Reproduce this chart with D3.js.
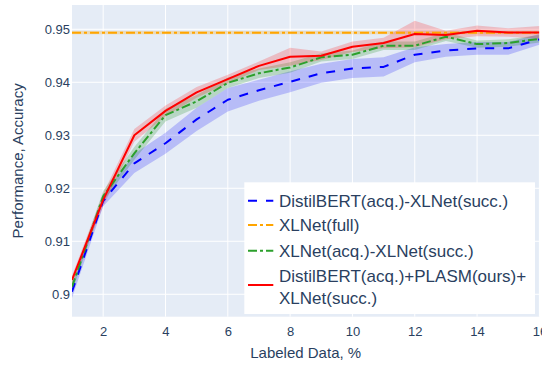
<!DOCTYPE html>
<html><head><meta charset="utf-8">
<script src="https://cdn.jsdelivr.net/npm/d3@7"></script>
<style>body{margin:0;background:#fff}svg{display:block}</style>
</head><body>
<svg id="chart" width="542" height="365"></svg>
<script>
const xValues = [1,2,3,4,5,6,7,8,9,10,11,12,13,14,15,16];
const seriesNames = ["DistilBERT(acq.)-XLNet(succ.)","XLNet(full)","XLNet(acq.)-XLNet(succ.)","DistilBERT(acq.)+PLASM(ours)+XLNet(succ.)"];
const distilXlnet = [0.9005,0.9176,0.9247,0.9285,0.9330,0.9367,0.9385,0.9401,0.9417,0.9426,0.9429,0.9452,0.9460,0.9464,0.9464,0.9481];
const distilXlnetStd = [0.0012,0.0010,0.0018,0.0020,0.0022,0.0022,0.0020,0.0020,0.0018,0.0018,0.0018,0.0014,0.0012,0.0012,0.0012,0.0010];
const xlnetFull = [0.94936,0.94936,0.94936,0.94936,0.94936,0.94936,0.94936,0.94936,0.94936,0.94936,0.94936,0.94936,0.94936,0.94936,0.94936,0.94936];
const xlnetFullStd = [0.0003,0.0003,0.0003,0.0003,0.0003,0.0003,0.0003,0.0003,0.0003,0.0003,0.0003,0.0003,0.0003,0.0003,0.0003,0.0003];
const xlnetXlnet = [0.9014,0.9185,0.9266,0.9338,0.9364,0.9399,0.9417,0.9428,0.9447,0.9452,0.9469,0.9469,0.9486,0.9472,0.9474,0.9482];
const xlnetXlnetStd = [0.0010,0.0010,0.0012,0.0012,0.0012,0.0010,0.0009,0.0010,0.0008,0.0008,0.0008,0.0008,0.0008,0.0007,0.0007,0.0007];
const plasm = [0.9027,0.9178,0.9300,0.9346,0.9381,0.9406,0.9431,0.9448,0.9450,0.9467,0.9474,0.9491,0.9489,0.9497,0.9494,0.9494];
const plasmStd = [0.0008,0.0012,0.0012,0.0010,0.0010,0.0008,0.0008,0.0017,0.0008,0.0010,0.0010,0.0025,0.0008,0.0010,0.0008,0.0012];
const xTicks = [2,4,6,8,10,12,14,16];
const yTicks = [0.9,0.91,0.92,0.93,0.94,0.95];
const yTickLabels = ["0.9","0.91","0.92","0.93","0.94","0.95"];
const xRange = [1,16];
const yRange = [0.89577,0.95458];

const series = [
  {name: seriesNames[0], y: distilXlnet, s: distilXlnetStd, color: "#0000ff", band: "rgba(0,0,255,0.2)", dash: "9,9"},
  {name: seriesNames[1], y: xlnetFull, s: xlnetFullStd, color: "#ffa500", band: "rgba(255,165,0,0.25)", dash: "9,3,3,3"},
  {name: seriesNames[2], y: xlnetXlnet, s: xlnetXlnetStd, color: "#2ca02c", band: "rgba(0,128,0,0.2)", dash: "9,3,3,3"},
  {name: seriesNames[3], y: plasm, s: plasmStd, color: "#ff0000", band: "rgba(255,0,0,0.2)", dash: null}
];

const svg = d3.select("#chart");
const M = {left: 72, top: 5, right: 539.4, bottom: 316.7};
const x = d3.scaleLinear().domain(xRange).range([M.left, M.right]);
const y = d3.scaleLinear().domain(yRange).range([M.bottom, M.top]);
const font = "'Liberation Sans', Arial, sans-serif";
const txt = "#2a3f5f";

svg.append("rect").attr("x", M.left).attr("y", M.top).attr("width", M.right - M.left).attr("height", M.bottom - M.top).attr("fill", "#e5ecf6");
svg.append("defs").append("clipPath").attr("id", "clip").append("rect")
  .attr("x", M.left).attr("y", M.top).attr("width", M.right - M.left).attr("height", M.bottom - M.top);

// grid
const grid = svg.append("g");
grid.selectAll(".gx").data(xTicks).join("line").attr("x1", d => x(d)).attr("x2", d => x(d)).attr("y1", M.top).attr("y2", M.bottom).attr("stroke", "#fff").attr("stroke-width", 1);
grid.selectAll(".gy").data(yTicks).join("line").attr("y1", d => y(d)).attr("y2", d => y(d)).attr("x1", M.left).attr("x2", M.right).attr("stroke", "#fff").attr("stroke-width", 1);

// axes
const xAxis = d3.axisBottom(x).tickValues(xTicks).tickSize(0).tickPadding(10).tickFormat(d3.format("d"));
const gx = svg.append("g").attr("transform", `translate(0,${M.bottom})`).call(xAxis);
gx.select(".domain").remove();
gx.selectAll("text").attr("font-family", font).attr("font-size", 13).attr("fill", txt);
const yAxis = d3.axisLeft(y).tickValues(yTicks).tickSize(0).tickPadding(2).tickFormat((d, i) => yTickLabels[i]);
const gy = svg.append("g").attr("transform", `translate(${M.left},0)`).call(yAxis);
gy.select(".domain").remove();
gy.selectAll("text").attr("font-family", font).attr("font-size", 13).attr("fill", txt);

// bands & lines
const plot = svg.append("g").attr("clip-path", "url(#clip)");
const area = d3.area().x((d, i) => x(xValues[i])).y0(d => y(d[0] - d[1])).y1(d => y(d[0] + d[1]));
const line = d3.line().x((d, i) => x(xValues[i])).y(d => y(d));
series.forEach(s => {
  plot.append("path").datum(s.y.map((v, i) => [v, s.s[i]])).attr("d", area).attr("fill", s.band).attr("stroke", "none");
});
series.forEach(s => {
  plot.append("path").datum(s.y).attr("d", line).attr("fill", "none").attr("stroke", s.color).attr("stroke-width", 2)
    .attr("stroke-dasharray", s.dash).attr("stroke-linejoin", "round");
});

// axis titles
svg.append("text").attr("x", (M.left + M.right) / 2).attr("y", 358).attr("text-anchor", "middle")
  .attr("font-family", font).attr("font-size", 15).attr("fill", txt).text("Labeled Data, %");
svg.append("text").attr("transform", `translate(23,${(M.top + M.bottom) / 2}) rotate(-90)`).attr("text-anchor", "middle")
  .attr("font-family", font).attr("font-size", 15).attr("fill", txt).text("Performance, Accuracy");

// legend
const lg = svg.append("g");
lg.append("rect").attr("x", 244.3).attr("y", 182.3).attr("width", 290.7).attr("height", 131.7).attr("fill", "#fff");
const rowsY = [200.7, 225, 250.7];
series.forEach((s, i) => {
  const cy = i < 3 ? rowsY[i] : 285;
  lg.append("line").attr("x1", 248).attr("x2", 273.3).attr("y1", cy).attr("y2", cy)
    .attr("stroke", s.color).attr("stroke-width", 2).attr("stroke-dasharray", s.dash);
});
const legendLines = [[seriesNames[0]],[seriesNames[1]],[seriesNames[2]],["DistilBERT(acq.)+PLASM(ours)+","XLNet(succ.)"]];
const lineYs = [[200.7],[225],[250.7],[276,297.7]];
legendLines.forEach((ls, i) => {
  ls.forEach((t, j) => {
    lg.append("text").attr("x", 279).attr("y", lineYs[i][j]).attr("dy", "0.35em")
      .attr("font-family", font).attr("font-size", 17).attr("fill", txt).text(t);
  });
});
</script>
</body></html>
